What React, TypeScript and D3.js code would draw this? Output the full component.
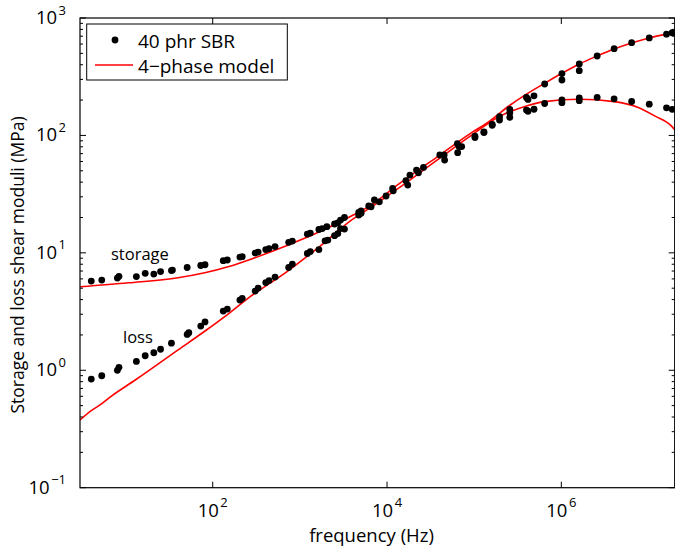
import React from 'react';
import * as d3 from 'd3';

// [frequency (Hz), modulus (MPa)]
const storageData: [number, number][] = [
  [4.04, 5.75], [5.33, 5.86], [8.05, 6.10], [8.4, 6.31], [13.3, 6.28], [16.8, 6.69], [21.1, 6.6],
  [25.2, 6.93], [33.6, 7.06], [34.5, 7.13], [50.9, 7.5], [72.9, 7.8], [81.6, 7.92], [132, 8.57],
  [147, 8.69], [205, 9.21], [218, 9.27], [307, 9.96], [332, 10.16], [406, 10.67], [443, 10.88],
  [519, 11.3], [744, 12.3], [820, 12.6], [1218, 14.45], [1318, 14.75], [1652, 15.8], [1807, 16.1],
  [2041, 16.7], [2500, 17.6], [2725, 18.0], [2926, 19.0], [3250, 20.0], [4733, 22.1], [5043, 22.8],
  [6165, 25.1], [7161, 28.2], [9747, 30.5], [11600, 35.4], [16480, 41.1], [18320, 46.0],
  [21790, 50.7], [26200, 53.4], [40360, 68.1], [64120, 85.3], [71940, 80.4], [102100, 98.8],
  [129400, 107], [161100, 124.4], [195400, 144.3], [256400, 166.7],
  [398000, 210.5], [415000, 202.4], [486000, 217.2], [644000, 274], [1016000, 336.6],
  [1016000, 296.5], [1607000, 405.6], [1607000, 355.9], [2578000, 474.6], [4033000, 547.7],
  [6412000, 616.6], [10210000, 676], [16110000, 728], [18710000, 749.7],
];

const lossData: [number, number][] = [
  [4.04, 0.841], [5.33, 0.898], [8.05, 1.0], [8.4, 1.06], [13.3, 1.19], [16.8, 1.33], [21.1, 1.41],
  [25.2, 1.51], [33.6, 1.70], [50.9, 2.02], [53.2, 2.09], [72.9, 2.38], [81.6, 2.58], [132, 3.19],
  [147, 3.32], [205, 3.96], [218, 4.1], [307, 4.73], [332, 5.01], [406, 5.58], [443, 5.81],
  [519, 6.22], [744, 7.5], [820, 8.03], [1218, 9.87], [1318, 10.26], [1652, 10.67], [1945, 12.65],
  [2094, 12.85], [2500, 14.0], [2725, 14.6], [2926, 16.1], [3250, 15.95], [4733, 21.0], [5043, 21.7],
  [6561, 24.7], [8166, 27.2], [11800, 33.8], [17290, 37.8], [22960, 48.1], [45200, 68.1],
  [45800, 61.7], [64700, 71.3], [67000, 80.4], [102100, 96], [129400, 105.9], [161100, 122],
  [195400, 135.3], [256400, 156.1], [256400, 142.6],
  [398000, 164.4], [415000, 160.7], [486000, 167], [644000, 187], [1016000, 200.4], [1016000, 190],
  [1607000, 208.4], [1607000, 197.7], [2578000, 210.5], [4033000, 205], [6412000, 194.5],
  [10210000, 184.5], [16110000, 171.8], [18710000, 166.7],
];

const storageModel: [number, number][] = [
  [3, 5.14], [10.8, 5.56], [40, 6.14], [81, 6.77], [150, 7.62], [291, 8.98], [701, 11.5],
  [1683, 15.1], [4045, 20.9], [6280, 25.0], [13830, 38.8], [39600, 67.4], [94400, 106],
  [147600, 131], [250000, 178], [398000, 225], [644000, 278], [1016000, 338], [1607000, 406],
  [2578000, 475], [4030000, 544], [6410000, 612], [10200000, 676], [18400000, 741], [20000000, 750],
];

const lossModel: [number, number][] = [
  [3, 0.377], [3.96, 0.449], [5.15, 0.51], [6.89, 0.603], [12.9, 0.826], [16.8, 0.947], [40, 1.49],
  [81.6, 2.16], [150, 3.01], [247, 4.04], [706, 6.9], [1683, 11.3], [4010, 19.3], [6280, 23.9],
  [13830, 35.9], [39600, 63.4], [94400, 101], [191900, 144], [398000, 178], [644000, 194],
  [1607000, 203], [4030000, 194], [7640000, 173], [11900000, 146], [18400000, 120], [20000000, 112],
];

const xTicks = [1e2, 1e4, 1e6];
const yTicks = [1e-1, 1e0, 1e1, 1e2, 1e3];

const xDomain: [number, number] = [3, 2e7];
const yDomain: [number, number] = [0.1, 1000];

const FONT = "'Open Sans', 'DejaVu Sans', sans-serif";

export default function App() {
  const left = 80, right = 674.7, top = 18, bottom = 487.7;
  const x = d3.scaleLog().domain(xDomain).range([left, right]);
  const y = d3.scaleLog().domain(yDomain).range([bottom, top]);

  const line = d3.line<[number, number]>()
    .x((d) => x(d[0]))
    .y((d) => y(d[1]))
    .curve(d3.curveMonotoneX);

  const minorY: number[] = [];
  for (let e = -1; e < 3; e++) {
    for (let k = 2; k <= 9; k++) minorY.push(k * Math.pow(10, e));
  }

  const exp = (v: number) => Math.round(Math.log10(v));
  const expLabel = (v: number) => (exp(v) < 0 ? '\u2212' + Math.abs(exp(v)) : String(exp(v)));

  return (
    <div style={{ position: 'fixed', left: 0, top: 0 }}>
      <svg width={675} height={548} style={{ display: 'block', background: '#fff' }}>
        <defs>
          <clipPath id="plotclip">
            <rect x={left} y={top} width={right - left} height={bottom - top} />
          </clipPath>
        </defs>
        <rect x={0} y={0} width={675} height={548} fill="#fff" />

        {/* model lines */}
        <g clipPath="url(#plotclip)">
          <path d={line(storageModel) || ''} fill="none" stroke="#ff0000" strokeWidth={1.6} />
          <path d={line(lossModel) || ''} fill="none" stroke="#ff0000" strokeWidth={1.6} />
        </g>

        {/* data dots */}
        <g>
          {storageData.map((d, i) => (
            <circle key={'s' + i} cx={x(d[0])} cy={y(d[1])} r={3.4} fill="#000" />
          ))}
          {lossData.map((d, i) => (
            <circle key={'l' + i} cx={x(d[0])} cy={y(d[1])} r={3.4} fill="#000" />
          ))}
        </g>

        {/* axes box */}
        <rect x={left} y={top} width={right - left} height={bottom - top} fill="none" stroke="#000" strokeWidth={1.2} />

        {/* x ticks */}
        {xTicks.map((t) => (
          <g key={'xt' + t}>
            <line x1={x(t)} x2={x(t)} y1={bottom} y2={bottom - 6} stroke="#000" strokeWidth={1} />
            <line x1={x(t)} x2={x(t)} y1={top} y2={top + 6} stroke="#000" strokeWidth={1} />
            <text x={x(t)} y={516.5} textAnchor="middle" fontFamily={FONT} fontSize={18.5} fill="#000">
              10<tspan dx={1.5} dy={-9.5} fontSize={13}>{expLabel(t)}</tspan>
            </text>
          </g>
        ))}

        {/* y ticks */}
        {yTicks.map((t) => (
          <g key={'yt' + t}>
            <line x1={left} x2={left + 6} y1={y(t)} y2={y(t)} stroke="#000" strokeWidth={1} />
            <line x1={right} x2={right - 6} y1={y(t)} y2={y(t)} stroke="#000" strokeWidth={1} />
            <text x={66} y={y(t) + 6} textAnchor="end" fontFamily={FONT} fontSize={18.5} fill="#000">
              10<tspan dx={1.5} dy={-9.5} fontSize={13}>{expLabel(t)}</tspan>
            </text>
          </g>
        ))}
        {minorY.map((t) => (
          <g key={'ym' + t}>
            <line x1={left} x2={left + 3} y1={y(t)} y2={y(t)} stroke="#000" strokeWidth={1} />
            <line x1={right} x2={right - 3} y1={y(t)} y2={y(t)} stroke="#000" strokeWidth={1} />
          </g>
        ))}

        {/* axis labels */}
        <text x={371.5} y={542} textAnchor="middle" fontFamily={FONT} fontSize={18.5} fill="#000">
          frequency (Hz)
        </text>
        <text transform={`translate(24, 265) rotate(-90)`} textAnchor="middle" fontFamily={FONT} fontSize={17.5} fill="#000">
          Storage and loss shear moduli (MPa)
        </text>

        {/* annotations */}
        <text x={111} y={260} fontFamily={FONT} fontSize={16.5} fill="#000">storage</text>
        <text x={123} y={343} fontFamily={FONT} fontSize={16.5} fill="#000">loss</text>

        {/* legend */}
        <rect x={86.7} y={24} width={200.6} height={56} fill="#fff" stroke="#000" strokeWidth={1} />
        <circle cx={115} cy={40} r={3.4} fill="#000" />
        <text x={138} y={47.5} fontFamily={FONT} fontSize={19} fill="#000">40 phr SBR</text>
        <line x1={95} x2={133} y1={65} y2={65} stroke="#ff0000" strokeWidth={1.6} />
        <text x={138} y={72.5} fontFamily={FONT} fontSize={19} fill="#000">4{'\u2212'}phase model</text>
      </svg>
    </div>
  );
}
